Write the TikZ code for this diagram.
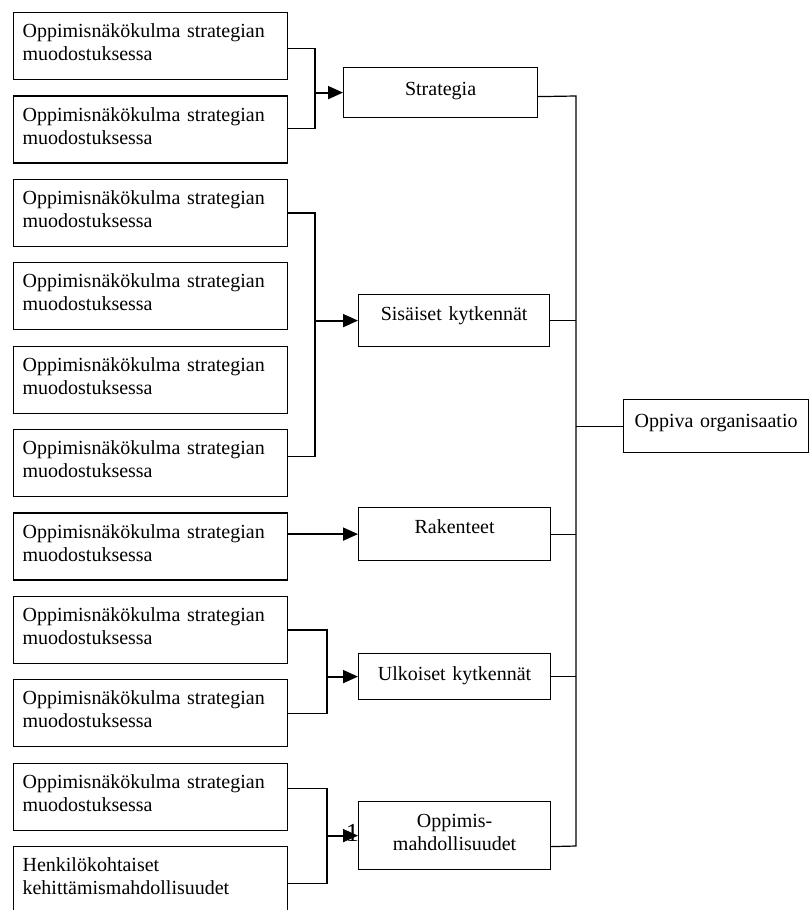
\documentclass[tikz,border=0pt]{standalone}
\usepackage{fontspec}
\setmainfont{Liberation Serif}
\usetikzlibrary{arrows.meta}

\tikzset{
  srcbox/.style={draw, line width=1.2pt, rectangle, anchor=north west,
    inner xsep=9pt, inner ysep=0pt, text width=256pt, align=left,
    text height=25pt, text depth=42pt},
  tgtbox/.style={draw, line width=1.2pt, rectangle, anchor=north west,
    inner xsep=4pt, inner ysep=0pt, align=center, text height=26pt},
  conn/.style={line width=1.2pt},
  arr/.style={line width=1.8pt, -{Triangle[length=15pt,width=13pt]}}
}

\begin{document}
\begin{tikzpicture}[x=1pt, y=-1pt, font=\fontsize{20}{23}\selectfont]
\useasboundingbox (0,0) rectangle (810,910);

% left column
\foreach \i in {1,...,10}
  \node (src\i) [srcbox] at (13,{12+83.4*(\i-1)})
    {Oppimisnäkökulma strategian\\muodostuksessa};
\node (src11) [srcbox] at (13,846)
  {Henkilökohtaiset\\kehittämismahdollisuudet};

% middle column
\node (strat) [tgtbox, text width=186pt, text height=28pt, text depth=22pt] at (343,67) {Strategia};
\node (sis) [tgtbox, text width=183pt, text depth=26pt] at (358,294) {Sisäiset kytkennät};
\node (rak) [tgtbox, text width=184pt, text depth=27pt] at (358,507) {Rakenteet};
\node (ulk) [tgtbox, text width=184pt, text height=27pt, text depth=19pt] at (358,653) {Ulkoiset kytkennät};
\node (opp) [tgtbox, text width=184pt, text depth=42pt] at (358,801) {Oppimis-\\mahdollisuudet};

% right box
\node (org) [tgtbox, text width=177pt, text height=28pt, text depth=25pt] at (623,399) {Oppiva organisaatio};

% brackets
\coordinate (j1) at (315,94);
\coordinate (j2) at (315,323);
\coordinate (j4) at (327,676);
\coordinate (j5) at (327,835);

\draw[conn] ([yshift=-2pt]src1.east) -| (j1) |- ([yshift=1pt]src2.east);
\draw[conn] (src3.east) -| (j2) |- ([yshift=7pt]src6.east);
\draw[conn] (src8.east) -| (j4) |- (src9.east);
\draw[conn] ([yshift=8pt]src10.east) -| (j5) |- ([yshift=-3pt]src11.east);

\node (fn) [font=\fontsize{26}{26}\selectfont, anchor=east, inner sep=0pt] at (359,833) {1};

\draw[arr] (j1 |- strat.west) -- (strat.west);
\draw[arr] (j2 |- sis.west) -- (sis.west);
\draw[arr] (src7.east |- rak.west) -- (rak.west);
\draw[arr] (j4 |- ulk.west) -- (ulk.west);
\draw[arr] (j5 |- opp.west) -- (opp.west);

% bus to the right
\coordinate (bustop) at (576,96);
\coordinate (busbot) at (576,846);
\draw[conn] ([yshift=-4pt]strat.east) -- (bustop) -- (busbot) -- ([yshift=-11pt]opp.east);
\foreach \n in {sis,rak,ulk}
  \draw[conn] (\n.east) -- (\n.east -| bustop);
\draw[conn] (org.west) -- (org.west -| bustop);

\end{tikzpicture}
\end{document}
